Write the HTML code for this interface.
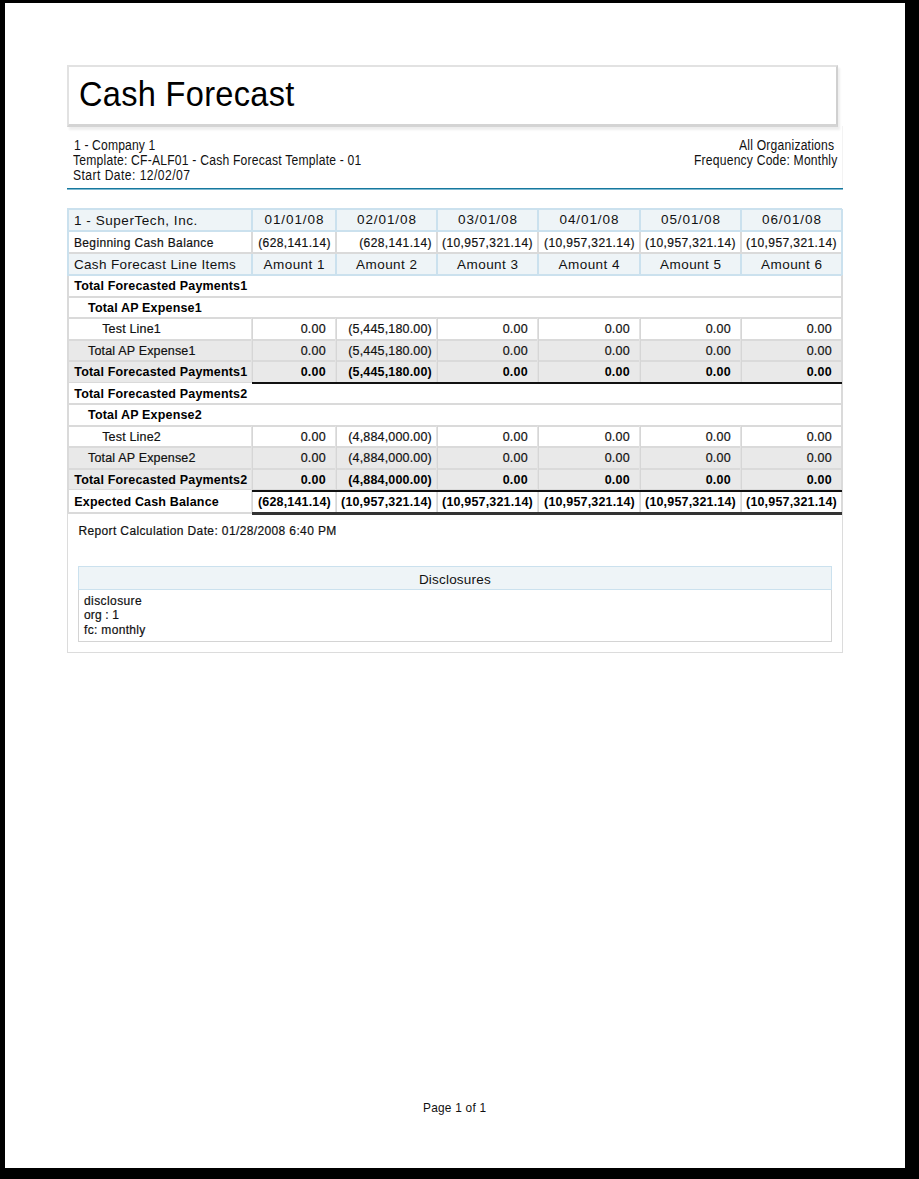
<!DOCTYPE html>
<html><head><meta charset="utf-8"><style>
html,body{margin:0;padding:0;width:919px;height:1179px;overflow:hidden;background:#000}
div,span{position:absolute}
span{font-family:"Liberation Sans", sans-serif;line-height:1;white-space:pre;-webkit-text-stroke:0.2px currentColor}
</style></head><body>
<div style="left:0;top:0;width:919px;height:1179px;background:#000"></div>
<div style="left:5px;top:3px;width:900px;height:1165px;background:#fff"></div>
<div style="left:67px;top:65px;width:771px;height:62px;border:2px solid #e2e2e2;border-right-color:#d0d0d0;border-bottom:3px solid #d4d4d4;box-sizing:border-box;box-shadow:2px 3px 2px rgba(0,0,0,0.07)"></div>
<div style="left:67px;top:275px;width:776px;height:378px;border:1px solid #dcdcdc;border-top:none;box-sizing:border-box"></div>
<div style="left:842px;top:126px;width:1px;height:63px;background:#f3f3f3"></div>
<div style="left:67px;top:188px;width:776px;height:1px;background:#16789e"></div>
<div style="left:67px;top:189px;width:776px;height:1px;background:#7fb9d0"></div>
<div style="left:68px;top:209px;width:774px;height:22px;background:#eef4f7"></div>
<div style="left:68px;top:253px;width:774px;height:22px;background:#eef4f7"></div>
<div style="left:68px;top:340px;width:774px;height:21px;background:#e9e9e9"></div>
<div style="left:68px;top:361px;width:774px;height:22px;background:#e9e9e9"></div>
<div style="left:68px;top:447px;width:774px;height:22px;background:#e9e9e9"></div>
<div style="left:68px;top:469px;width:774px;height:21px;background:#e9e9e9"></div>
<div style="left:68px;top:296px;width:774px;height:2px;background:#dadada"></div>
<div style="left:68px;top:317px;width:774px;height:2px;background:#dadada"></div>
<div style="left:68px;top:339px;width:774px;height:2px;background:#dadada"></div>
<div style="left:68px;top:360px;width:774px;height:2px;background:#dadada"></div>
<div style="left:68px;top:382px;width:774px;height:1px;background:#dadada"></div>
<div style="left:68px;top:403px;width:774px;height:2px;background:#dadada"></div>
<div style="left:68px;top:425px;width:774px;height:2px;background:#dadada"></div>
<div style="left:68px;top:446px;width:774px;height:2px;background:#dadada"></div>
<div style="left:68px;top:468px;width:774px;height:2px;background:#dadada"></div>
<div style="left:68px;top:489px;width:774px;height:1px;background:#dadada"></div>
<div style="left:68px;top:512px;width:774px;height:2px;background:#dadada"></div>
<div style="left:67px;top:275px;width:2px;height:238px;background:#dadada"></div>
<div style="left:841px;top:275px;width:2px;height:238px;background:#dadada"></div>
<div style="left:251px;top:318px;width:2px;height:22px;background:#e2e2e2"></div>
<div style="left:252px;top:318px;width:1px;height:22px;background:#d6d6d6"></div>
<div style="left:335px;top:318px;width:2px;height:22px;background:#e2e2e2"></div>
<div style="left:336px;top:318px;width:1px;height:22px;background:#d6d6d6"></div>
<div style="left:436px;top:318px;width:2px;height:22px;background:#e2e2e2"></div>
<div style="left:437px;top:318px;width:1px;height:22px;background:#d6d6d6"></div>
<div style="left:537px;top:318px;width:2px;height:22px;background:#e2e2e2"></div>
<div style="left:538px;top:318px;width:1px;height:22px;background:#d6d6d6"></div>
<div style="left:639px;top:318px;width:2px;height:22px;background:#e2e2e2"></div>
<div style="left:640px;top:318px;width:1px;height:22px;background:#d6d6d6"></div>
<div style="left:740px;top:318px;width:2px;height:22px;background:#e2e2e2"></div>
<div style="left:741px;top:318px;width:1px;height:22px;background:#d6d6d6"></div>
<div style="left:251px;top:340px;width:2px;height:21px;background:#e2e2e2"></div>
<div style="left:252px;top:340px;width:1px;height:21px;background:#d6d6d6"></div>
<div style="left:335px;top:340px;width:2px;height:21px;background:#e2e2e2"></div>
<div style="left:336px;top:340px;width:1px;height:21px;background:#d6d6d6"></div>
<div style="left:436px;top:340px;width:2px;height:21px;background:#e2e2e2"></div>
<div style="left:437px;top:340px;width:1px;height:21px;background:#d6d6d6"></div>
<div style="left:537px;top:340px;width:2px;height:21px;background:#e2e2e2"></div>
<div style="left:538px;top:340px;width:1px;height:21px;background:#d6d6d6"></div>
<div style="left:639px;top:340px;width:2px;height:21px;background:#e2e2e2"></div>
<div style="left:640px;top:340px;width:1px;height:21px;background:#d6d6d6"></div>
<div style="left:740px;top:340px;width:2px;height:21px;background:#e2e2e2"></div>
<div style="left:741px;top:340px;width:1px;height:21px;background:#d6d6d6"></div>
<div style="left:251px;top:361px;width:2px;height:22px;background:#e2e2e2"></div>
<div style="left:252px;top:361px;width:1px;height:22px;background:#d6d6d6"></div>
<div style="left:335px;top:361px;width:2px;height:22px;background:#e2e2e2"></div>
<div style="left:336px;top:361px;width:1px;height:22px;background:#d6d6d6"></div>
<div style="left:436px;top:361px;width:2px;height:22px;background:#e2e2e2"></div>
<div style="left:437px;top:361px;width:1px;height:22px;background:#d6d6d6"></div>
<div style="left:537px;top:361px;width:2px;height:22px;background:#e2e2e2"></div>
<div style="left:538px;top:361px;width:1px;height:22px;background:#d6d6d6"></div>
<div style="left:639px;top:361px;width:2px;height:22px;background:#e2e2e2"></div>
<div style="left:640px;top:361px;width:1px;height:22px;background:#d6d6d6"></div>
<div style="left:740px;top:361px;width:2px;height:22px;background:#e2e2e2"></div>
<div style="left:741px;top:361px;width:1px;height:22px;background:#d6d6d6"></div>
<div style="left:251px;top:426px;width:2px;height:21px;background:#e2e2e2"></div>
<div style="left:252px;top:426px;width:1px;height:21px;background:#d6d6d6"></div>
<div style="left:335px;top:426px;width:2px;height:21px;background:#e2e2e2"></div>
<div style="left:336px;top:426px;width:1px;height:21px;background:#d6d6d6"></div>
<div style="left:436px;top:426px;width:2px;height:21px;background:#e2e2e2"></div>
<div style="left:437px;top:426px;width:1px;height:21px;background:#d6d6d6"></div>
<div style="left:537px;top:426px;width:2px;height:21px;background:#e2e2e2"></div>
<div style="left:538px;top:426px;width:1px;height:21px;background:#d6d6d6"></div>
<div style="left:639px;top:426px;width:2px;height:21px;background:#e2e2e2"></div>
<div style="left:640px;top:426px;width:1px;height:21px;background:#d6d6d6"></div>
<div style="left:740px;top:426px;width:2px;height:21px;background:#e2e2e2"></div>
<div style="left:741px;top:426px;width:1px;height:21px;background:#d6d6d6"></div>
<div style="left:251px;top:447px;width:2px;height:22px;background:#e2e2e2"></div>
<div style="left:252px;top:447px;width:1px;height:22px;background:#d6d6d6"></div>
<div style="left:335px;top:447px;width:2px;height:22px;background:#e2e2e2"></div>
<div style="left:336px;top:447px;width:1px;height:22px;background:#d6d6d6"></div>
<div style="left:436px;top:447px;width:2px;height:22px;background:#e2e2e2"></div>
<div style="left:437px;top:447px;width:1px;height:22px;background:#d6d6d6"></div>
<div style="left:537px;top:447px;width:2px;height:22px;background:#e2e2e2"></div>
<div style="left:538px;top:447px;width:1px;height:22px;background:#d6d6d6"></div>
<div style="left:639px;top:447px;width:2px;height:22px;background:#e2e2e2"></div>
<div style="left:640px;top:447px;width:1px;height:22px;background:#d6d6d6"></div>
<div style="left:740px;top:447px;width:2px;height:22px;background:#e2e2e2"></div>
<div style="left:741px;top:447px;width:1px;height:22px;background:#d6d6d6"></div>
<div style="left:251px;top:469px;width:2px;height:21px;background:#e2e2e2"></div>
<div style="left:252px;top:469px;width:1px;height:21px;background:#d6d6d6"></div>
<div style="left:335px;top:469px;width:2px;height:21px;background:#e2e2e2"></div>
<div style="left:336px;top:469px;width:1px;height:21px;background:#d6d6d6"></div>
<div style="left:436px;top:469px;width:2px;height:21px;background:#e2e2e2"></div>
<div style="left:437px;top:469px;width:1px;height:21px;background:#d6d6d6"></div>
<div style="left:537px;top:469px;width:2px;height:21px;background:#e2e2e2"></div>
<div style="left:538px;top:469px;width:1px;height:21px;background:#d6d6d6"></div>
<div style="left:639px;top:469px;width:2px;height:21px;background:#e2e2e2"></div>
<div style="left:640px;top:469px;width:1px;height:21px;background:#d6d6d6"></div>
<div style="left:740px;top:469px;width:2px;height:21px;background:#e2e2e2"></div>
<div style="left:741px;top:469px;width:1px;height:21px;background:#d6d6d6"></div>
<div style="left:251px;top:490px;width:2px;height:23px;background:#e2e2e2"></div>
<div style="left:252px;top:490px;width:1px;height:23px;background:#d6d6d6"></div>
<div style="left:335px;top:490px;width:2px;height:23px;background:#e2e2e2"></div>
<div style="left:336px;top:490px;width:1px;height:23px;background:#d6d6d6"></div>
<div style="left:436px;top:490px;width:2px;height:23px;background:#e2e2e2"></div>
<div style="left:437px;top:490px;width:1px;height:23px;background:#d6d6d6"></div>
<div style="left:537px;top:490px;width:2px;height:23px;background:#e2e2e2"></div>
<div style="left:538px;top:490px;width:1px;height:23px;background:#d6d6d6"></div>
<div style="left:639px;top:490px;width:2px;height:23px;background:#e2e2e2"></div>
<div style="left:640px;top:490px;width:1px;height:23px;background:#d6d6d6"></div>
<div style="left:740px;top:490px;width:2px;height:23px;background:#e2e2e2"></div>
<div style="left:741px;top:490px;width:1px;height:23px;background:#d6d6d6"></div>
<div style="left:251px;top:231px;width:2px;height:22px;background:#dadada"></div>
<div style="left:335px;top:231px;width:2px;height:22px;background:#dadada"></div>
<div style="left:436px;top:231px;width:2px;height:22px;background:#dadada"></div>
<div style="left:537px;top:231px;width:2px;height:22px;background:#dadada"></div>
<div style="left:639px;top:231px;width:2px;height:22px;background:#dadada"></div>
<div style="left:740px;top:231px;width:2px;height:22px;background:#dadada"></div>
<div style="left:68px;top:252px;width:774px;height:2px;background:#dadada"></div>
<div style="left:67px;top:231px;width:2px;height:22px;background:#cbe1ee"></div>
<div style="left:841px;top:231px;width:2px;height:22px;background:#cbe1ee"></div>
<div style="left:67px;top:208px;width:775px;height:2px;background:#cbe1ee"></div>
<div style="left:67px;top:230px;width:775px;height:2px;background:#cbe1ee"></div>
<div style="left:67px;top:209px;width:2px;height:22px;background:#cbe1ee"></div>
<div style="left:251px;top:209px;width:2px;height:22px;background:#cbe1ee"></div>
<div style="left:335px;top:209px;width:2px;height:22px;background:#cbe1ee"></div>
<div style="left:436px;top:209px;width:2px;height:22px;background:#cbe1ee"></div>
<div style="left:537px;top:209px;width:2px;height:22px;background:#cbe1ee"></div>
<div style="left:639px;top:209px;width:2px;height:22px;background:#cbe1ee"></div>
<div style="left:740px;top:209px;width:2px;height:22px;background:#cbe1ee"></div>
<div style="left:841px;top:209px;width:2px;height:22px;background:#cbe1ee"></div>
<div style="left:67px;top:252px;width:775px;height:2px;background:#cbe1ee"></div>
<div style="left:67px;top:274px;width:775px;height:2px;background:#cbe1ee"></div>
<div style="left:67px;top:253px;width:2px;height:22px;background:#cbe1ee"></div>
<div style="left:251px;top:253px;width:2px;height:22px;background:#cbe1ee"></div>
<div style="left:335px;top:253px;width:2px;height:22px;background:#cbe1ee"></div>
<div style="left:436px;top:253px;width:2px;height:22px;background:#cbe1ee"></div>
<div style="left:537px;top:253px;width:2px;height:22px;background:#cbe1ee"></div>
<div style="left:639px;top:253px;width:2px;height:22px;background:#cbe1ee"></div>
<div style="left:740px;top:253px;width:2px;height:22px;background:#cbe1ee"></div>
<div style="left:841px;top:253px;width:2px;height:22px;background:#cbe1ee"></div>
<div style="left:69px;top:252px;width:772px;height:2px;background:#dadada"></div>
<div style="left:252px;top:382px;width:590px;height:2px;background:#111"></div>
<div style="left:252px;top:490px;width:590px;height:2px;background:#111"></div>
<div style="left:252px;top:512px;width:590px;height:3px;background:#333"></div>
<div style="left:78px;top:566px;width:754px;height:76px;border:1px solid #d4d4d4;box-sizing:border-box"></div>
<div style="left:78px;top:566px;width:754px;height:24px;background:#eef4f7;border:1px solid #cbe1ee;box-sizing:border-box"></div>
<span style="transform:scaleX(0.93);transform-origin:0 0;left:78.80px;top:76.27px;font-size:35px;font-weight:400;letter-spacing:0.326px;color:#000;-webkit-text-stroke:0">Cash Forecast</span>
<span style="transform:scaleX(0.88);transform-origin:0 0;left:73.50px;top:138.92px;font-size:13.8px;font-weight:400;letter-spacing:0.157px;color:#111;-webkit-text-stroke:0">1 - Company 1</span>
<span style="transform:scaleX(0.88);transform-origin:0 0;left:73.20px;top:153.62px;font-size:13.8px;font-weight:400;letter-spacing:0.238px;color:#111;-webkit-text-stroke:0">Template: CF-ALF01 - Cash Forecast Template - 01</span>
<span style="transform:scaleX(0.88);transform-origin:0 0;left:73.20px;top:168.62px;font-size:13.8px;font-weight:400;letter-spacing:0.498px;color:#111;-webkit-text-stroke:0">Start Date: 12/02/07</span>
<span style="transform:scaleX(0.88);transform-origin:0 0;left:738.80px;top:138.82px;font-size:13.8px;font-weight:400;letter-spacing:0.236px;color:#111;-webkit-text-stroke:0">All Organizations</span>
<span style="transform:scaleX(0.88);transform-origin:0 0;left:693.90px;top:153.62px;font-size:13.8px;font-weight:400;letter-spacing:0.221px;color:#111;-webkit-text-stroke:0">Frequency Code: Monthly</span>
<span style="left:73.90px;top:213.87px;font-size:13.5px;font-weight:400;letter-spacing:0.560px;color:#111;-webkit-text-stroke:0">1 - SuperTech, Inc.</span>
<span style="left:264.55px;top:213.37px;font-size:13.5px;font-weight:400;letter-spacing:0.905px;color:#111;-webkit-text-stroke:0">01/01/08</span>
<span style="left:357.05px;top:213.37px;font-size:13.5px;font-weight:400;letter-spacing:0.905px;color:#111;-webkit-text-stroke:0">02/01/08</span>
<span style="left:458.05px;top:213.37px;font-size:13.5px;font-weight:400;letter-spacing:0.905px;color:#111;-webkit-text-stroke:0">03/01/08</span>
<span style="left:559.55px;top:213.37px;font-size:13.5px;font-weight:400;letter-spacing:0.905px;color:#111;-webkit-text-stroke:0">04/01/08</span>
<span style="left:661.05px;top:213.37px;font-size:13.5px;font-weight:400;letter-spacing:0.905px;color:#111;-webkit-text-stroke:0">05/01/08</span>
<span style="left:762.05px;top:213.37px;font-size:13.5px;font-weight:400;letter-spacing:0.905px;color:#111;-webkit-text-stroke:0">06/01/08</span>
<span style="left:73.90px;top:236.54px;font-size:12px;font-weight:400;letter-spacing:0.384px;color:#111">Beginning Cash Balance</span>
<span style="left:258.20px;top:236.54px;font-size:12px;font-weight:400;letter-spacing:0.385px;color:#111">(628,141.14)</span>
<span style="left:359.20px;top:236.54px;font-size:12px;font-weight:400;letter-spacing:0.385px;color:#111">(628,141.14)</span>
<span style="left:442.00px;top:236.54px;font-size:12px;font-weight:400;letter-spacing:0.412px;color:#111">(10,957,321.14)</span>
<span style="left:544.00px;top:236.54px;font-size:12px;font-weight:400;letter-spacing:0.412px;color:#111">(10,957,321.14)</span>
<span style="left:645.00px;top:236.54px;font-size:12px;font-weight:400;letter-spacing:0.412px;color:#111">(10,957,321.14)</span>
<span style="left:746.00px;top:236.54px;font-size:12px;font-weight:400;letter-spacing:0.412px;color:#111">(10,957,321.14)</span>
<span style="left:73.90px;top:257.97px;font-size:13.5px;font-weight:400;letter-spacing:0.355px;color:#111;-webkit-text-stroke:0">Cash Forecast Line Items</span>
<span style="left:263.50px;top:257.97px;font-size:13.5px;font-weight:400;letter-spacing:0.458px;color:#111;-webkit-text-stroke:0">Amount 1</span>
<span style="left:356.00px;top:257.97px;font-size:13.5px;font-weight:400;letter-spacing:0.458px;color:#111;-webkit-text-stroke:0">Amount 2</span>
<span style="left:457.00px;top:257.97px;font-size:13.5px;font-weight:400;letter-spacing:0.458px;color:#111;-webkit-text-stroke:0">Amount 3</span>
<span style="left:558.50px;top:257.97px;font-size:13.5px;font-weight:400;letter-spacing:0.458px;color:#111;-webkit-text-stroke:0">Amount 4</span>
<span style="left:660.00px;top:257.97px;font-size:13.5px;font-weight:400;letter-spacing:0.458px;color:#111;-webkit-text-stroke:0">Amount 5</span>
<span style="left:761.00px;top:257.97px;font-size:13.5px;font-weight:400;letter-spacing:0.458px;color:#111;-webkit-text-stroke:0">Amount 6</span>
<span style="left:74.30px;top:280.42px;font-size:12.5px;font-weight:700;letter-spacing:0.170px;color:#000;-webkit-text-stroke:0">Total Forecasted Payments1</span>
<span style="left:88.00px;top:301.92px;font-size:12.5px;font-weight:700;letter-spacing:0.170px;color:#000;-webkit-text-stroke:0">Total AP Expense1</span>
<span style="left:102.20px;top:323.42px;font-size:12.5px;font-weight:400;letter-spacing:0.170px;color:#111">Test Line1</span>
<span style="left:300.75px;top:323.42px;font-size:12.5px;font-weight:400;letter-spacing:0.170px;color:#111">0.00</span>
<span style="left:348.18px;top:323.42px;font-size:12.5px;font-weight:400;letter-spacing:0.170px;color:#111">(5,445,180.00)</span>
<span style="left:502.75px;top:323.42px;font-size:12.5px;font-weight:400;letter-spacing:0.170px;color:#111">0.00</span>
<span style="left:604.75px;top:323.42px;font-size:12.5px;font-weight:400;letter-spacing:0.170px;color:#111">0.00</span>
<span style="left:705.75px;top:323.42px;font-size:12.5px;font-weight:400;letter-spacing:0.170px;color:#111">0.00</span>
<span style="left:806.75px;top:323.42px;font-size:12.5px;font-weight:400;letter-spacing:0.170px;color:#111">0.00</span>
<span style="left:88.00px;top:344.92px;font-size:12.5px;font-weight:400;letter-spacing:0.170px;color:#111">Total AP Expense1</span>
<span style="left:300.75px;top:344.92px;font-size:12.5px;font-weight:400;letter-spacing:0.170px;color:#111">0.00</span>
<span style="left:348.18px;top:344.92px;font-size:12.5px;font-weight:400;letter-spacing:0.170px;color:#111">(5,445,180.00)</span>
<span style="left:502.75px;top:344.92px;font-size:12.5px;font-weight:400;letter-spacing:0.170px;color:#111">0.00</span>
<span style="left:604.75px;top:344.92px;font-size:12.5px;font-weight:400;letter-spacing:0.170px;color:#111">0.00</span>
<span style="left:705.75px;top:344.92px;font-size:12.5px;font-weight:400;letter-spacing:0.170px;color:#111">0.00</span>
<span style="left:806.75px;top:344.92px;font-size:12.5px;font-weight:400;letter-spacing:0.170px;color:#111">0.00</span>
<span style="left:74.30px;top:366.42px;font-size:12.5px;font-weight:700;letter-spacing:0.170px;color:#000;-webkit-text-stroke:0">Total Forecasted Payments1</span>
<span style="left:300.75px;top:366.42px;font-size:12.5px;font-weight:700;letter-spacing:0.170px;color:#000;-webkit-text-stroke:0">0.00</span>
<span style="left:348.18px;top:366.42px;font-size:12.5px;font-weight:700;letter-spacing:0.170px;color:#000;-webkit-text-stroke:0">(5,445,180.00)</span>
<span style="left:502.75px;top:366.42px;font-size:12.5px;font-weight:700;letter-spacing:0.170px;color:#000;-webkit-text-stroke:0">0.00</span>
<span style="left:604.75px;top:366.42px;font-size:12.5px;font-weight:700;letter-spacing:0.170px;color:#000;-webkit-text-stroke:0">0.00</span>
<span style="left:705.75px;top:366.42px;font-size:12.5px;font-weight:700;letter-spacing:0.170px;color:#000;-webkit-text-stroke:0">0.00</span>
<span style="left:806.75px;top:366.42px;font-size:12.5px;font-weight:700;letter-spacing:0.170px;color:#000;-webkit-text-stroke:0">0.00</span>
<span style="left:74.30px;top:387.92px;font-size:12.5px;font-weight:700;letter-spacing:0.170px;color:#000;-webkit-text-stroke:0">Total Forecasted Payments2</span>
<span style="left:88.00px;top:409.42px;font-size:12.5px;font-weight:700;letter-spacing:0.170px;color:#000;-webkit-text-stroke:0">Total AP Expense2</span>
<span style="left:102.20px;top:430.92px;font-size:12.5px;font-weight:400;letter-spacing:0.170px;color:#111">Test Line2</span>
<span style="left:300.75px;top:430.92px;font-size:12.5px;font-weight:400;letter-spacing:0.170px;color:#111">0.00</span>
<span style="left:348.18px;top:430.92px;font-size:12.5px;font-weight:400;letter-spacing:0.170px;color:#111">(4,884,000.00)</span>
<span style="left:502.75px;top:430.92px;font-size:12.5px;font-weight:400;letter-spacing:0.170px;color:#111">0.00</span>
<span style="left:604.75px;top:430.92px;font-size:12.5px;font-weight:400;letter-spacing:0.170px;color:#111">0.00</span>
<span style="left:705.75px;top:430.92px;font-size:12.5px;font-weight:400;letter-spacing:0.170px;color:#111">0.00</span>
<span style="left:806.75px;top:430.92px;font-size:12.5px;font-weight:400;letter-spacing:0.170px;color:#111">0.00</span>
<span style="left:88.00px;top:452.42px;font-size:12.5px;font-weight:400;letter-spacing:0.170px;color:#111">Total AP Expense2</span>
<span style="left:300.75px;top:452.42px;font-size:12.5px;font-weight:400;letter-spacing:0.170px;color:#111">0.00</span>
<span style="left:348.18px;top:452.42px;font-size:12.5px;font-weight:400;letter-spacing:0.170px;color:#111">(4,884,000.00)</span>
<span style="left:502.75px;top:452.42px;font-size:12.5px;font-weight:400;letter-spacing:0.170px;color:#111">0.00</span>
<span style="left:604.75px;top:452.42px;font-size:12.5px;font-weight:400;letter-spacing:0.170px;color:#111">0.00</span>
<span style="left:705.75px;top:452.42px;font-size:12.5px;font-weight:400;letter-spacing:0.170px;color:#111">0.00</span>
<span style="left:806.75px;top:452.42px;font-size:12.5px;font-weight:400;letter-spacing:0.170px;color:#111">0.00</span>
<span style="left:74.30px;top:473.92px;font-size:12.5px;font-weight:700;letter-spacing:0.170px;color:#000;-webkit-text-stroke:0">Total Forecasted Payments2</span>
<span style="left:300.75px;top:473.92px;font-size:12.5px;font-weight:700;letter-spacing:0.170px;color:#000;-webkit-text-stroke:0">0.00</span>
<span style="left:348.18px;top:473.92px;font-size:12.5px;font-weight:700;letter-spacing:0.170px;color:#000;-webkit-text-stroke:0">(4,884,000.00)</span>
<span style="left:502.75px;top:473.92px;font-size:12.5px;font-weight:700;letter-spacing:0.170px;color:#000;-webkit-text-stroke:0">0.00</span>
<span style="left:604.75px;top:473.92px;font-size:12.5px;font-weight:700;letter-spacing:0.170px;color:#000;-webkit-text-stroke:0">0.00</span>
<span style="left:705.75px;top:473.92px;font-size:12.5px;font-weight:700;letter-spacing:0.170px;color:#000;-webkit-text-stroke:0">0.00</span>
<span style="left:806.75px;top:473.92px;font-size:12.5px;font-weight:700;letter-spacing:0.170px;color:#000;-webkit-text-stroke:0">0.00</span>
<span style="left:74.30px;top:495.92px;font-size:12.5px;font-weight:700;letter-spacing:0.170px;color:#000;-webkit-text-stroke:0">Expected Cash Balance</span>
<span style="left:257.94px;top:495.92px;font-size:12.5px;font-weight:700;letter-spacing:0.170px;color:#000;-webkit-text-stroke:0">(628,141.14)</span>
<span style="left:341.05px;top:495.92px;font-size:12.5px;font-weight:700;letter-spacing:0.170px;color:#000;-webkit-text-stroke:0">(10,957,321.14)</span>
<span style="left:442.05px;top:495.92px;font-size:12.5px;font-weight:700;letter-spacing:0.170px;color:#000;-webkit-text-stroke:0">(10,957,321.14)</span>
<span style="left:544.05px;top:495.92px;font-size:12.5px;font-weight:700;letter-spacing:0.170px;color:#000;-webkit-text-stroke:0">(10,957,321.14)</span>
<span style="left:645.05px;top:495.92px;font-size:12.5px;font-weight:700;letter-spacing:0.170px;color:#000;-webkit-text-stroke:0">(10,957,321.14)</span>
<span style="left:746.05px;top:495.92px;font-size:12.5px;font-weight:700;letter-spacing:0.170px;color:#000;-webkit-text-stroke:0">(10,957,321.14)</span>
<span style="left:78.40px;top:525.04px;font-size:12px;font-weight:400;letter-spacing:0.375px;color:#111">Report Calculation Date: 01/28/2008 6:40 PM</span>
<span style="left:418.90px;top:572.57px;font-size:13.5px;font-weight:400;letter-spacing:0.202px;color:#111;-webkit-text-stroke:0">Disclosures</span>
<span style="left:84.00px;top:594.64px;font-size:12px;font-weight:400;letter-spacing:0.408px;color:#111">disclosure</span>
<span style="left:84.00px;top:608.84px;font-size:12px;font-weight:400;letter-spacing:0.145px;color:#111">org : 1</span>
<span style="left:84.00px;top:623.74px;font-size:12px;font-weight:400;letter-spacing:0.327px;color:#111">fc: monthly</span>
<span style="transform:scaleX(0.88);transform-origin:0 0;left:423.20px;top:1100.77px;font-size:13.5px;font-weight:400;letter-spacing:0.264px;color:#111;-webkit-text-stroke:0">Page 1 of 1</span>
</body></html>
